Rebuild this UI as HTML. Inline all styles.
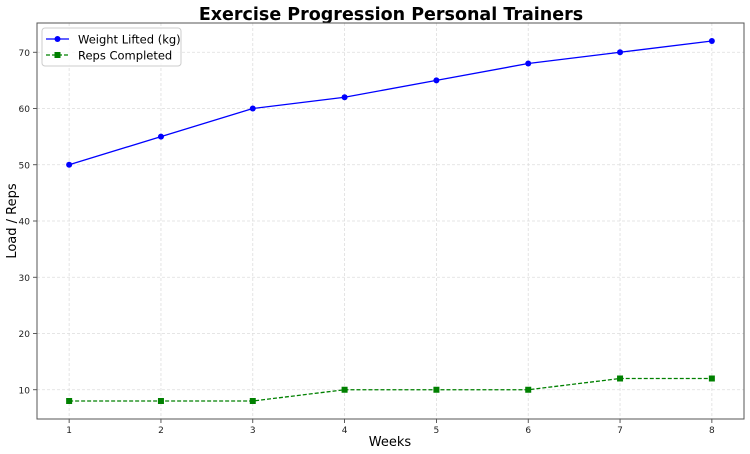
<!DOCTYPE html>
<html><head><meta charset="utf-8"><style>
html,body{margin:0;padding:0;background:#fff;}
svg{display:block;font-family:"DejaVu Sans","Liberation Sans",sans-serif;}
</style></head><body>
<svg id="chart" width="750" height="454" viewBox="0 0 750 454">
<text x="391" y="20" text-anchor="middle" font-size="17.5" font-weight="bold" fill="#000">Exercise Progression Personal Trainers</text>
<g id="grid"></g>
<g id="axes"></g>
<g id="series"></g>
<text x="390" y="446" text-anchor="middle" font-size="13" fill="#000">Weeks</text>
<text x="16" y="221" text-anchor="middle" font-size="13" fill="#000" transform="rotate(-90 16 221)">Load / Reps</text>
<g>
<rect x="42" y="28" width="139" height="38" rx="3" fill="#fff" fill-opacity="0.8" stroke="#ccc"/>
<g>
<line x1="46" y1="39" x2="69" y2="39" stroke="#0000ff" stroke-width="1.3"/>
<circle cx="57.5" cy="39" r="3" fill="#0000ff"/>
<text x="78" y="43.5" font-size="11.5" fill="#000">Weight Lifted (kg)</text>
</g>
<g>
<line x1="46" y1="55" x2="69" y2="55" stroke="#008000" stroke-width="1.3" stroke-dasharray="4,2"/>
<rect x="54.5" y="52" width="6" height="6" fill="#008000"/>
<text x="78" y="59.5" font-size="11.5" fill="#000">Reps Completed</text>
</g>
</g>
</svg>
<script>
const weeks = [1,2,3,4,5,6,7,8];
const weightLifted = [50,55,60,62,65,68,70,72];
const repsCompleted = [8,8,8,10,10,10,12,12];
const xTicks = [1,2,3,4,5,6,7,8];
const yTicks = [10,20,30,40,50,60,70];

const L=37,R=744,T=23,B=419;
const xmin=0.65,xmax=8.35,ymin=4.8,ymax=75.2;
const sx=v=>L+(v-xmin)/(xmax-xmin)*(R-L);
const sy=v=>B-(v-ymin)/(ymax-ymin)*(B-T);
const NS="http://www.w3.org/2000/svg";
function mk(tag,attrs,parent){const e=document.createElementNS(NS,tag);for(const k in attrs)e.setAttribute(k,attrs[k]);parent.appendChild(e);return e;}
const grid=document.getElementById('grid'),axes=document.getElementById('axes'),series=document.getElementById('series');
xTicks.forEach(t=>{
  const g=mk('line',{x1:sx(t),x2:sx(t),y1:T,y2:B,stroke:'#ddd','stroke-width':0.8,'stroke-dasharray':'3,2'},grid);
  
  
  mk('line',{x1:sx(t),x2:sx(t),y1:B,y2:B+4,stroke:'#333','stroke-width':0.8},axes);
  const tx=mk('text',{x:sx(t),y:B+14,'text-anchor':'middle','font-size':9,fill:'#222'},axes);
  tx.textContent=t;
  
  
});
yTicks.forEach(t=>{
  const g=mk('line',{x1:L,x2:R,y1:sy(t),y2:sy(t),stroke:'#ddd','stroke-width':0.8,'stroke-dasharray':'3,2'},grid);
  
  
  mk('line',{x1:L-4,x2:L,y1:sy(t),y2:sy(t),stroke:'#333','stroke-width':0.8},axes);
  const tx=mk('text',{x:L-7,y:sy(t)+3.5,'text-anchor':'end','font-size':9,fill:'#222'},axes);
  tx.textContent=t;
  
  
});
const fr=mk('rect',{x:L,y:T,width:R-L,height:B-T,fill:'none',stroke:'#555','stroke-width':1},axes);



const wl=mk('polyline',{points:weeks.map((w,i)=>sx(w)+','+sy(weightLifted[i])).join(' '),fill:'none',stroke:'#0000ff','stroke-width':1.3},series);


weeks.forEach((w,i)=>{
  const c=mk('circle',{cx:sx(w),cy:sy(weightLifted[i]),r:3,fill:'#0000ff'},series);
  
  
});
const rl=mk('polyline',{points:weeks.map((w,i)=>sx(w)+','+sy(repsCompleted[i])).join(' '),fill:'none',stroke:'#008000','stroke-width':1.3,'stroke-dasharray':'4,2'},series);


weeks.forEach((w,i)=>{
  const r=mk('rect',{x:sx(w)-3,y:sy(repsCompleted[i])-3,width:6,height:6,fill:'#008000'},series);
  
  
});
</script>
</body></html>
